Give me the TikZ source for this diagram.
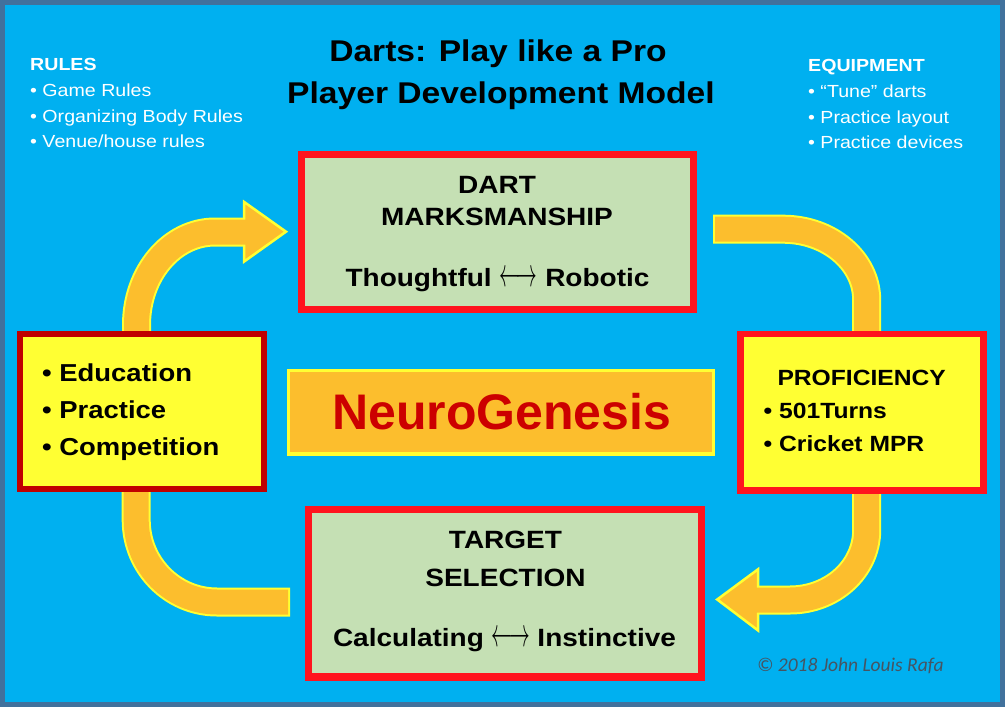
\documentclass[tikz,border=0pt]{standalone}
\usepackage{fontspec}
\usepackage{graphicx}
\setmainfont[FakeStretch=1.12]{Liberation Sans}
\newfontfamily\ngfont{Liberation Sans}
\newfontfamily\cpfont{Carlito}
\definecolor{bgblue}{RGB}{0,176,240}
\definecolor{framecol}{RGB}{65,113,156}
\definecolor{arroworange}{RGB}{252,190,45}
\definecolor{arrowyellow}{RGB}{255,255,51}
\definecolor{boxgreen}{RGB}{197,224,180}
\definecolor{boxyellow}{RGB}{255,255,51}
\definecolor{darkred}{RGB}{192,0,0}
\definecolor{brightred}{RGB}{255,20,30}
\definecolor{ngred}{RGB}{204,0,0}
\definecolor{copygray}{RGB}{70,84,98}
\newcommand{\myLRA}{\resizebox{38pt}{15pt}{$\longleftrightarrow$}}
\tikzset{
  box/.style={draw, rectangle, inner sep=0pt, outer sep=0pt},
  shaftout/.style={draw=arrowyellow, line width=29pt},
  shaftin/.style={draw=arroworange, line width=25pt},
  head/.style={fill=arroworange, draw=arrowyellow, line width=2.5pt, line join=miter},
  ttl/.style={font=\fontsize{30}{36}\selectfont\bfseries, anchor=base, inner sep=0pt},
  side/.style={font=\fontsize{17.5}{21}\selectfont, text=white, anchor=base west, inner sep=0pt},
  hd/.style={font=\fontsize{25}{30}\selectfont\bfseries, anchor=base, inner sep=0pt},
  lst/.style={font=\fontsize{24.5}{29}\selectfont\bfseries, anchor=base west, inner sep=0pt},
  prf/.style={font=\fontsize{22}{26}\selectfont\bfseries, inner sep=0pt},
}
\begin{document}
\begin{tikzpicture}[x=1pt,y=-1pt]
\useasboundingbox (0,0) rectangle (1005,707);
\fill[bgblue] (0,0) rectangle (1005,707);
\draw[framecol, line width=5pt] (2.5,2.5) rectangle (1002.5,704.5);

% ---------- arrows ----------
% top-left
\coordinate (tlA) at (136.5,338);
\coordinate (tlB) at (136.5,325);
\coordinate (tlC) at (215,232);
\coordinate (tlD) at (246,232);
\coordinate (tlE) at (249,232);
\coordinate (tlH1) at (244.2,202);
\coordinate (tlT) at (286,231.7);
\coordinate (tlH2) at (244.2,261.5);
\draw[shaftout] (tlA) -- (tlB) .. controls (136.5,273.6) and (171.6,232) .. (tlC) -- (tlD);
\draw[head] (tlH1) -- (tlT) -- (tlH2) -- cycle;
\draw[shaftin] (tlA) -- (tlB) .. controls (136.5,273.6) and (171.6,232) .. (tlC) -- (tlE);

% top-right
\coordinate (trA) at (713,229.2);
\coordinate (trA2) at (715,229.2);
\coordinate (trB) at (783,229.2);
\coordinate (trC) at (866.7,300);
\coordinate (trD) at (866.7,338);
\draw[shaftout] (trA) -- (trB) .. controls (829.2,229.2) and (866.7,260.8) .. (trC) -- (trD);
\draw[shaftin] (trA2) -- (trB) .. controls (829.2,229.2) and (866.7,260.8) .. (trC) -- (trD);

% bottom-right
\coordinate (brA) at (866.7,486);
\coordinate (brB) at (866.7,530);
\coordinate (brC) at (790,600);
\coordinate (brD) at (757,600);
\coordinate (brE) at (754,600);
\coordinate (brH1) at (758,569.3);
\coordinate (brT) at (717.2,599.5);
\coordinate (brH2) at (758,630.4);
\draw[shaftout] (brA) -- (brB) .. controls (866.7,568.7) and (832.4,600) .. (brC) -- (brD);
\draw[head] (brH1) -- (brT) -- (brH2) -- cycle;
\draw[shaftin] (brA) -- (brB) .. controls (866.7,568.7) and (832.4,600) .. (brC) -- (brE);

% bottom-left
\coordinate (blA) at (136.2,486);
\coordinate (blB) at (136.2,520);
\coordinate (blC) at (217,602);
\coordinate (blD) at (290,602);
\coordinate (blE) at (288,602);
\draw[shaftout] (blA) -- (blB) .. controls (136.2,565.3) and (172.4,602) .. (blC) -- (blD);
\draw[shaftin] (blA) -- (blB) .. controls (136.2,565.3) and (172.4,602) .. (blC) -- (blE);

% ---------- boxes ----------
\node[box, draw=brightred, line width=7pt, fill=boxgreen, minimum width=392pt, minimum height=154.6pt] (dm) at (497,232) {};
\node[box, draw=brightred, line width=7.5pt, fill=boxgreen, minimum width=392.6pt, minimum height=167.5pt] (ts) at (505,593.45) {};
\node[box, draw=darkred, line width=6pt, fill=boxyellow, minimum width=244pt, minimum height=155pt] (edu) at (142,411.5) {};
\node[box, draw=brightred, line width=6.5pt, fill=boxyellow, minimum width=243pt, minimum height=156.5pt] (prof) at (862,412.25) {};
\node[box, draw=arrowyellow, line width=3.5pt, fill=arroworange, minimum width=424.8pt, minimum height=83.7pt] (ng) at (500.9,412.15) {};

% ---------- texts ----------
\node[ttl] (t1) at (498,61.7) {Darts: Play like a Pro};
\node[ttl] (t2) at (501,103.3) {Player Development Model};

\node[side] (r0) at (30,70.7) {\bfseries RULES};
\node[side] (r1) at (30,96.7) {• Game Rules};
\node[side] (r2) at (30,122.3) {• Organizing Body Rules};
\node[side] (r3) at (30,147.3) {• Venue/house rules};

\node[side] (e0) at (808,71.5) {\bfseries EQUIPMENT};
\node[side] (e1) at (808,97.3) {• “Tune” darts};
\node[side] (e2) at (808,123) {• Practice layout};
\node[side] (e3) at (808,148) {• Practice devices};

\node[hd] (dm1) at (497,193.3) {DART};
\node[hd] (dm2) at (497,225) {MARKSMANSHIP};
\node[hd] (dm3) at (497.5,286.7) {Thoughtful \myLRA\ Robotic};

\node[hd] (ts1) at (505.5,548.3) {TARGET};
\node[hd] (ts2) at (505.5,586) {SELECTION};
\node[hd] (ts3) at (504.5,646.7) {Calculating \myLRA\ Instinctive};

\node[lst] (ed1) at (42,381.7) {• Education};
\node[lst] (ed2) at (42,418.3) {• Practice};
\node[lst] (ed3) at (42,455) {• Competition};

\node[prf, anchor=base] (pf0) at (861.7,385) {PROFICIENCY};
\node[prf, anchor=base west] (pf1) at (763.5,418.3) {• 501Turns};
\node[prf, anchor=base west] (pf2) at (763.5,451.7) {• Cricket MPR};

\node[font=\ngfont\fontsize{50}{60}\selectfont\bfseries, text=ngred, anchor=base, inner sep=0pt] (ngt) at (501.7,429) {NeuroGenesis};

\node[font=\cpfont\itshape\fontsize{19.5}{23}\selectfont, text=copygray, anchor=base west, inner sep=0pt] (copy) at (757,671.7) {© 2018 John Louis Rafa};
\end{tikzpicture}
\end{document}
